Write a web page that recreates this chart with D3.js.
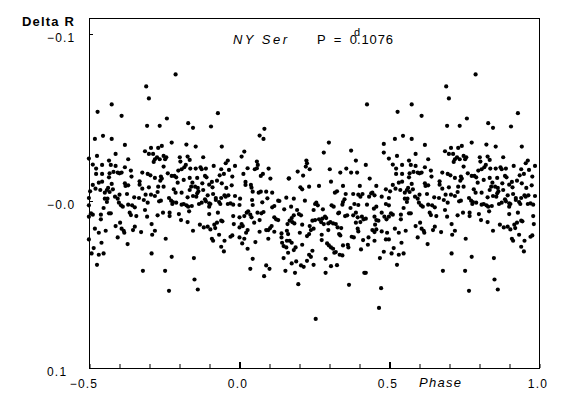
<!DOCTYPE html>
<html>
<head>
<meta charset="utf-8">
<script src="https://cdn.jsdelivr.net/npm/d3@7"></script>
<style>
  body { margin: 0; background: #fff; }
  svg { display: block; }
  text { font-family: "Liberation Sans", Arial, sans-serif; fill: #000; }
</style>
</head>
<body>
<svg id="chart" width="574" height="398"></svg>
<script>
// NY Ser, R-band differential magnitude folded with P = 0.1076 d
// [phase, delta R] for phase 0..1
const observations = [
  [0.083,-0.0432],[0.067,-0.0392],[0.080,-0.0372],[0.016,-0.0296],[0.007,-0.0266],[0.058,-0.0236],[0.061,-0.0216],[0.027,-0.0196],[0.051,-0.0190],[0.058,-0.0196],[0.097,-0.0194],[0.013,-0.0162],[0.078,-0.0162],[0.071,-0.0150],[0.103,-0.0134],[0.164,-0.0134],[0.020,-0.0114],[0.020,-0.0096],[0.038,-0.0096],[0.040,-0.0080],[0.044,-0.0056],[0.071,-0.0056],[0.064,-0.0050],[0.089,-0.0056],[0.109,-0.0050],[0.002,-0.0014],[0.042,-0.0006],[0.129,-0.0002],[0.133,0.0000],[0.156,-0.0020],[0.093,-0.0016],[0.076,0.0008],[0.000,0.0024],[0.044,0.0024],[0.116,0.0030],[0.109,0.0038],[0.029,0.0062],[0.024,0.0070],[0.036,0.0082],[0.060,0.0070],[0.073,0.0074],[0.080,0.0066],[0.016,0.0090],[0.000,0.0098],[0.040,0.0098],[0.116,0.0098],[0.122,0.0110],[0.129,0.0114],[0.149,0.0050],[0.067,0.0114],[0.049,0.0130],[0.007,0.0138],[0.160,0.0138],[0.000,0.0158],[0.011,0.0150],[0.107,0.0150],[0.102,0.0162],[0.096,0.0174],[0.089,0.0174],[0.116,0.0184],[0.027,0.0174],[0.022,0.0190],[0.067,0.0184],[0.158,0.0178],[0.140,0.0194],[0.140,0.0218],[0.162,0.0198],[0.000,0.0218],[0.016,0.0226],[0.096,0.0226],[0.142,0.0250],[0.147,0.0270],[0.156,0.0278],[0.162,0.0310],[0.158,0.0238],[0.009,0.0254],[0.053,0.0246],[0.027,0.0286],[0.147,0.0342],[0.044,0.0346],[0.089,0.0386],[0.100,0.0406],[0.036,0.0406],[0.153,0.0418],[0.082,0.0450],
  [0.298,-0.0350],[0.281,-0.0290],[0.223,-0.0242],[0.225,-0.0226],[0.221,-0.0206],[0.234,-0.0190],[0.194,-0.0176],[0.212,-0.0152],[0.165,-0.0136],[0.301,-0.0190],[0.305,-0.0116],[0.203,-0.0082],[0.209,-0.0070],[0.232,-0.0086],[0.265,-0.0090],[0.181,-0.0014],[0.218,-0.0002],[0.256,0.0010],[0.252,0.0018],[0.261,0.0026],[0.307,0.0026],[0.314,0.0034],[0.318,-0.0050],[0.325,-0.0058],[0.172,0.0034],[0.192,0.0054],[0.198,0.0078],[0.205,0.0086],[0.181,0.0086],[0.174,0.0102],[0.167,0.0118],[0.176,0.0126],[0.183,0.0134],[0.247,0.0054],[0.278,0.0050],[0.289,0.0102],[0.285,0.0094],[0.276,0.0106],[0.265,0.0110],[0.252,0.0114],[0.243,0.0118],[0.272,0.0126],[0.281,0.0138],[0.303,0.0126],[0.312,0.0134],[0.296,0.0134],[0.321,0.0138],[0.209,0.0142],[0.234,0.0150],[0.238,0.0174],[0.247,0.0166],[0.329,0.0074],[0.327,0.0158],[0.296,0.0174],[0.274,0.0202],[0.201,0.0190],[0.232,0.0198],[0.225,0.0210],[0.167,0.0238],[0.174,0.0250],[0.274,0.0234],[0.209,0.0262],[0.292,0.0254],[0.298,0.0266],[0.305,0.0278],[0.312,0.0286],[0.321,0.0306],[0.316,0.0310],[0.187,0.0278],[0.181,0.0294],[0.243,0.0298],[0.232,0.0322],[0.238,0.0334],[0.287,0.0346],[0.189,0.0362],[0.174,0.0374],[0.205,0.0386],[0.214,0.0394],[0.225,0.0358],[0.247,0.0382],[0.305,0.0390],[0.325,0.0384],[0.185,0.0430],[0.287,0.0430],[0.196,0.0498],[0.254,0.0706],
  [0.425,-0.0578],[0.481,-0.0342],[0.481,-0.0290],[0.372,-0.0302],[0.388,-0.0242],[0.421,-0.0216],[0.356,-0.0194],[0.336,-0.0170],[0.372,-0.0170],[0.392,-0.0170],[0.434,-0.0134],[0.345,-0.0090],[0.401,-0.0090],[0.456,-0.0090],[0.488,-0.0070],[0.354,-0.0042],[0.379,-0.0042],[0.396,-0.0038],[0.403,-0.0026],[0.410,-0.0042],[0.439,-0.0046],[0.443,-0.0050],[0.432,-0.0026],[0.450,-0.0034],[0.474,-0.0026],[0.350,-0.0010],[0.345,0.0006],[0.343,0.0022],[0.383,0.0018],[0.396,0.0024],[0.425,0.0022],[0.456,0.0034],[0.448,0.0046],[0.488,0.0018],[0.370,0.0042],[0.332,0.0070],[0.352,0.0090],[0.359,0.0086],[0.379,0.0086],[0.388,0.0070],[0.394,0.0098],[0.408,0.0094],[0.414,0.0110],[0.421,0.0106],[0.403,0.0126],[0.388,0.0130],[0.450,0.0094],[0.456,0.0114],[0.463,0.0118],[0.474,0.0070],[0.483,0.0094],[0.490,0.0110],[0.339,0.0162],[0.452,0.0142],[0.443,0.0174],[0.450,0.0186],[0.456,0.0170],[0.474,0.0182],[0.492,0.0190],[0.332,0.0198],[0.336,0.0206],[0.374,0.0214],[0.381,0.0218],[0.394,0.0166],[0.396,0.0182],[0.361,0.0262],[0.363,0.0278],[0.345,0.0266],[0.412,0.0234],[0.430,0.0218],[0.450,0.0238],[0.428,0.0262],[0.488,0.0230],[0.405,0.0290],[0.481,0.0304],[0.468,0.0342],[0.334,0.0322],[0.343,0.0326],[0.416,0.0430],[0.421,0.0430],[0.365,0.0502],[0.472,0.0522],[0.465,0.0640],
  [0.574,-0.0578],[0.527,-0.0534],[0.607,-0.0510],[0.518,-0.0372],[0.545,-0.0390],[0.574,-0.0372],[0.618,-0.0336],[0.498,-0.0254],[0.525,-0.0270],[0.565,-0.0242],[0.587,-0.0282],[0.629,-0.0250],[0.511,-0.0218],[0.542,-0.0216],[0.571,-0.0216],[0.587,-0.0210],[0.618,-0.0202],[0.638,-0.0182],[0.522,-0.0194],[0.522,-0.0162],[0.542,-0.0162],[0.567,-0.0166],[0.580,-0.0174],[0.594,-0.0170],[0.600,-0.0166],[0.607,-0.0170],[0.640,-0.0146],[0.565,-0.0142],[0.511,-0.0096],[0.531,-0.0110],[0.542,-0.0116],[0.574,-0.0102],[0.618,-0.0106],[0.620,-0.0090],[0.629,-0.0094],[0.502,-0.0058],[0.520,-0.0074],[0.536,-0.0066],[0.558,-0.0066],[0.562,-0.0078],[0.551,-0.0050],[0.567,-0.0054],[0.578,-0.0070],[0.585,-0.0026],[0.594,-0.0014],[0.598,0.0010],[0.605,0.0026],[0.611,0.0034],[0.600,-0.0038],[0.625,-0.0042],[0.649,-0.0022],[0.551,-0.0014],[0.560,-0.0014],[0.558,0.0006],[0.498,-0.0018],[0.498,0.0026],[0.547,0.0042],[0.629,0.0022],[0.642,0.0026],[0.651,0.0038],[0.634,0.0070],[0.638,0.0084],[0.656,0.0090],[0.505,0.0074],[0.511,0.0082],[0.498,0.0094],[0.538,0.0082],[0.538,0.0110],[0.565,0.0074],[0.571,0.0074],[0.587,0.0150],[0.602,0.0130],[0.607,0.0166],[0.614,0.0178],[0.616,0.0190],[0.645,0.0174],[0.651,0.0154],[0.518,0.0166],[0.531,0.0190],[0.554,0.0178],[0.498,0.0230],[0.540,0.0250],[0.594,0.0218],[0.627,0.0258],[0.514,0.0282],[0.507,0.0314],[0.531,0.0322],[0.547,0.0314],[0.525,0.0382],
  [0.787,-0.0758],[0.689,-0.0686],[0.698,-0.0614],[0.758,-0.0494],[0.692,-0.0450],[0.734,-0.0450],[0.829,-0.0466],[0.774,-0.0350],[0.823,-0.0338],[0.685,-0.0298],[0.705,-0.0318],[0.698,-0.0282],[0.712,-0.0282],[0.729,-0.0318],[0.741,-0.0330],[0.725,-0.0262],[0.718,-0.0250],[0.734,-0.0250],[0.714,-0.0234],[0.747,-0.0270],[0.756,-0.0262],[0.752,-0.0250],[0.801,-0.0262],[0.803,-0.0236],[0.827,-0.0266],[0.821,-0.0216],[0.816,-0.0202],[0.807,-0.0190],[0.747,-0.0206],[0.676,-0.0170],[0.694,-0.0162],[0.703,-0.0154],[0.718,-0.0138],[0.761,-0.0166],[0.774,-0.0150],[0.783,-0.0150],[0.789,-0.0142],[0.796,-0.0182],[0.738,-0.0146],[0.741,-0.0134],[0.736,-0.0122],[0.794,-0.0110],[0.814,-0.0126],[0.667,-0.0118],[0.667,-0.0098],[0.676,-0.0074],[0.698,-0.0082],[0.729,-0.0086],[0.747,-0.0086],[0.781,-0.0070],[0.787,-0.0050],[0.807,-0.0050],[0.687,-0.0038],[0.705,-0.0038],[0.718,-0.0030],[0.727,-0.0054],[0.738,-0.0002],[0.732,0.0002],[0.765,-0.0018],[0.772,-0.0002],[0.778,0.0006],[0.776,0.0018],[0.789,0.0010],[0.807,0.0022],[0.814,0.0018],[0.827,-0.0022],[0.823,0.0026],[0.829,0.0034],[0.665,-0.0018],[0.681,-0.0006],[0.694,0.0010],[0.685,0.0054],[0.692,0.0094],[0.745,0.0070],[0.767,0.0070],[0.767,0.0090],[0.798,0.0078],[0.727,0.0086],[0.805,0.0114],[0.827,0.0126],[0.707,0.0138],[0.718,0.0178],[0.709,0.0202],[0.672,0.0186],[0.754,0.0226],[0.707,0.0314],[0.774,0.0334],[0.678,0.0418],[0.752,0.0418],[0.765,0.0538],
  [0.928,-0.0526],[0.845,-0.0438],[0.905,-0.0446],[0.854,-0.0326],[0.941,-0.0326],[0.879,-0.0262],[0.834,-0.0246],[0.914,-0.0210],[0.961,-0.0242],[0.954,-0.0226],[0.985,-0.0210],[0.836,-0.0194],[0.854,-0.0194],[0.870,-0.0202],[0.874,-0.0190],[0.888,-0.0194],[0.939,-0.0190],[0.948,-0.0162],[0.934,-0.0154],[0.965,-0.0186],[0.976,-0.0146],[0.834,-0.0138],[0.859,-0.0138],[0.885,-0.0150],[0.890,-0.0142],[0.843,-0.0110],[0.876,-0.0106],[0.899,-0.0098],[0.908,-0.0114],[0.925,-0.0122],[0.941,-0.0106],[0.910,-0.0082],[0.839,-0.0086],[0.852,-0.0086],[0.861,-0.0078],[0.879,-0.0066],[0.834,-0.0066],[0.845,-0.0030],[0.859,-0.0046],[0.863,-0.0058],[0.856,-0.0026],[0.874,0.0010],[0.865,0.0018],[0.885,-0.0010],[0.888,0.0002],[0.894,-0.0034],[0.899,0.0014],[0.899,0.0034],[0.903,0.0018],[0.921,-0.0018],[0.921,-0.0006],[0.932,0.0006],[0.936,0.0018],[0.939,-0.0018],[0.950,-0.0034],[0.954,-0.0026],[0.963,-0.0034],[0.985,-0.0030],[0.961,0.0018],[0.970,0.0014],[0.979,0.0022],[0.956,-0.0078],[0.974,-0.0094],[0.912,-0.0042],[0.841,0.0030],[0.832,0.0062],[0.899,0.0078],[0.928,0.0070],[0.979,0.0090],[0.916,0.0142],[0.925,0.0130],[0.939,0.0118],[0.943,0.0122],[0.919,0.0162],[0.894,0.0154],[0.903,0.0170],[0.868,0.0142],[0.881,0.0158],[0.845,0.0178],[0.981,0.0138],[0.976,0.0206],[0.970,0.0214],[0.908,0.0226],[0.912,0.0238],[0.932,0.0202],[0.939,0.0274],[0.948,0.0302],[0.950,0.0238],[0.848,0.0342],[0.850,0.0470],[0.861,0.0530]
];

const xTicks = [-0.5, -0.4, -0.3, -0.2, -0.1, 0.0, 0.1, 0.2, 0.3, 0.4, 0.5, 0.6, 0.7, 0.8, 0.9, 1.0];
const xMajor = [0.0, 0.5];
const xLabels = [-0.5, 0.0, 0.5, 1.0];
const xLabelText = ["\u22120.5", "0.0", "0.5", "1.0"];
const yTicks = [-0.1, 0.0, 0.1];
const yLabelText = ["\u22120.1", "\u22120.0", "0.1"];

const svg = d3.select("#chart");

const x = d3.scaleLinear().domain([-0.5, 1.0]).range([89.5, 539.5]);
const y = d3.scaleLinear().domain([-0.1, 0.1]).range([34, 368]);

// fold: the second half of the cycle is repeated in front of phase 0
const pts = observations
  .filter(d => Number.isFinite(d[0]) && Number.isFinite(d[1]))
  .flatMap(d => d[0] >= 0.495 ? [d, [d[0] - 1, d[1]]] : [d]);

svg.append("g")
  .selectAll("circle")
  .data(pts)
  .join("circle")
  .attr("cx", d => x(d[0]))
  .attr("cy", d => y(d[1]))
  .attr("r", 2.1)
  .attr("fill", "#000");

// frame
svg.append("rect")
  .attr("x", 89.5).attr("y", 18.5)
  .attr("width", 450).attr("height", 350)
  .attr("fill", "none").attr("stroke", "#000");

// bottom ticks (inside)
const gx = svg.append("g")
  .attr("transform", "translate(0,368)")
  .call(d3.axisBottom(x).tickValues(xTicks).tickSize(-4).tickFormat(""));
gx.select(".domain").remove();
gx.selectAll(".tick line")
  .attr("stroke", "#000")
  .attr("stroke-width", d => xMajor.includes(d) ? 2 : 1)
  .attr("y2", d => xMajor.includes(d) ? -6 : -4);

// left ticks (inside)
const gy = svg.append("g")
  .attr("transform", "translate(89,0)")
  .call(d3.axisLeft(y).tickValues(yTicks).tickSize(-4).tickFormat(""));
gy.select(".domain").remove();
gy.selectAll(".tick line").attr("stroke", "#000");

// tick labels
svg.append("g")
  .selectAll("text")
  .data(xLabels)
  .join("text")
  .attr("x", d => x(d) - 1.5 - (d < 0 ? 4 : 0))
  .attr("y", 388)
  .attr("text-anchor", "middle")
  .style("font-size", "12px")
  .style("letter-spacing", "1.2px")
  .text((d, i) => xLabelText[i]);

svg.append("g")
  .selectAll("text")
  .data(yTicks)
  .join("text")
  .attr("x", 47)
  .attr("y", d => y(d) + 8)
  .style("font-size", "12px")
  .style("letter-spacing", "1.2px")
  .text((d, i) => yLabelText[i]);

// axis titles
svg.append("text")
  .attr("x", 22).attr("y", 26)
  .attr("textLength", 52).attr("lengthAdjust", "spacing")
  .style("font-size", "13px").style("font-weight", "bold")
  .text("Delta  R");

svg.append("text")
  .attr("x", 419).attr("y", 387)
  .attr("textLength", 42).attr("lengthAdjust", "spacing")
  .style("font-size", "13px").style("font-style", "italic")
  .text("Phase");

// title
svg.append("text")
  .attr("x", 233).attr("y", 44)
  .attr("textLength", 54).attr("lengthAdjust", "spacing")
  .style("font-size", "13px").style("font-style", "italic")
  .text("NY Ser");

// period with the day mark set above the decimal point
const period = svg.append("text").style("font-size", "13px");
period.append("tspan")
  .attr("x", 317).attr("y", 44)
  .attr("textLength", 40).attr("lengthAdjust", "spacing")
  .text("P = 0");
period.append("tspan")
  .attr("x", 354).attr("y", 36)
  .style("font-size", "11px")
  .text("d");
period.append("tspan")
  .attr("x", 357).attr("y", 44)
  .attr("textLength", 36).attr("lengthAdjust", "spacing")
  .text(".1076");
</script>
</body>
</html>
